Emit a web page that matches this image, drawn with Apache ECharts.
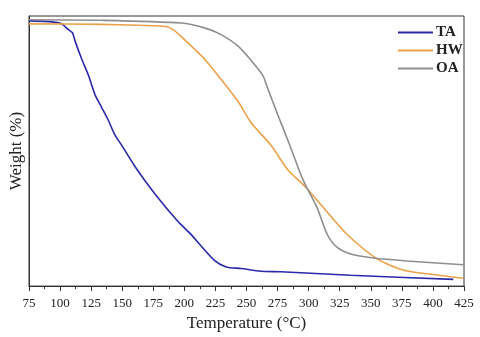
<!DOCTYPE html>
<html>
<head>
<meta charset="utf-8">
<script src="https://cdn.jsdelivr.net/npm/echarts@6/dist/echarts.min.js"></script>
<style>
  html, body { margin: 0; padding: 0; background: #fff; }
  #chart { width: 480px; height: 337px; }
</style>
</head>
<body>
<div id="chart"></div>
<script>
// temperature (°C) / weight (arbitrary %, no y labels in the source)
var taTemp = [75.2, 99.8, 106.8, 110.0, 112.1, 117.4, 122.8, 128.1, 133.5, 138.8, 144.1, 149.5, 160.1, 176.2, 194.9, 204.2, 224.2, 233.6, 245.6, 261.6, 277.6, 333.7, 416.4]
var taWeight = [98.2, 97.4, 94.9, 93.8, 90.7, 84.1, 78.1, 70.9, 66.1, 61.4, 56.0, 52.2, 44.4, 34.2, 23.9, 19.7, 9.5, 7.1, 6.5, 5.5, 5.3, 4.0, 2.5]

var hwTemp = [75, 133.5, 175.9, 186.0, 191.5, 196.5, 208.2, 216.2, 226.9, 243.0, 253.6, 269.6, 283.0, 297.7, 312.3, 331.0, 355.1, 376.4, 403.1, 424.4]
var hwWeight = [97.1, 96.9, 96.4, 96.0, 94.8, 92.8, 87.7, 84.1, 78.1, 68.5, 60.6, 52.2, 43.2, 36.6, 28.8, 19.1, 10.1, 5.9, 4.1, 2.9]

var oaTemp = [75, 133.5, 197.5, 216.2, 229.6, 243.0, 253.6, 263.0, 267.0, 275.0, 284.3, 293.6, 297.7, 307.0, 315.0, 323.0, 333.7, 352.4, 379.1, 424.4]
var oaWeight = [98.6, 98.4, 97.4, 95.6, 93.1, 88.9, 83.6, 78.1, 73.3, 63.6, 52.8, 41.4, 37.2, 28.8, 19.1, 14.3, 11.9, 10.4, 9.3, 7.9]

function pairs (xs, ys) {
  var out = []
  for (let i = 0; i < xs.length; i++) {
    out.push([xs[i], ys[i]])
  }
  return out
}

var serif = 'Liberation Serif'
var myChart = echarts.init(document.getElementById('chart'))
var option = {
  animation: false,
  backgroundColor: '#fff',
  textStyle: { fontFamily: serif },
  grid: {
    left: 27,
    right: 16,
    top: 16,
    bottom: 44,
    show: true,
    borderColor: '#333',
    borderWidth: 1
  },
  legend: {
    orient: 'vertical',
    left: 393,
    top: 20,
    icon: 'rect',
    itemWidth: 35,
    itemHeight: 2,
    itemGap: 3,
    textStyle: { fontFamily: serif, fontSize: 15, fontWeight: 'bold', color: '#222', padding: [0, 0, 0, -2] },
    data: ['TA', 'HW', 'OA']
  },
  xAxis: {
    type: 'value',
    min: 75,
    max: 425,
    interval: 25,
    name: 'Temperature (°C)',
    nameLocation: 'middle',
    nameGap: 23,
    nameTextStyle: { fontFamily: serif, fontSize: 17, color: '#222' },
    axisLine: { lineStyle: { color: '#333', width: 1 } },
    axisTick: { length: 5, lineStyle: { color: '#333' } },
    minorTick: { show: true, splitNumber: 2, length: 3, lineStyle: { color: '#333' } },
    axisLabel: { fontFamily: serif, fontSize: 13, color: '#222', margin: 11 },
    splitLine: { show: false }
  },
  yAxis: {
    type: 'value',
    min: 0,
    max: 100,
    name: 'Weight (%)',
    nameLocation: 'middle',
    nameGap: 4,
    nameTextStyle: { fontFamily: serif, fontSize: 17, color: '#222' },
    axisLine: { show: true, lineStyle: { color: '#333', width: 1 } },
    axisTick: { show: false },
    axisLabel: { show: false },
    splitLine: { show: false }
  },
  series: [
    {
      name: 'TA',
      type: 'line',
      symbol: 'none',
      smooth: 0.25,
      data: pairs(taTemp, taWeight),
      lineStyle: { color: '#2a2aa8', width: 1.6 },
      itemStyle: { color: '#2a2aa8' }
    },
    {
      name: 'HW',
      type: 'line',
      symbol: 'none',
      smooth: 0.25,
      data: pairs(hwTemp, hwWeight),
      lineStyle: { color: '#eba14a', width: 1.6 },
      itemStyle: { color: '#eba14a' }
    },
    {
      name: 'OA',
      type: 'line',
      symbol: 'none',
      smooth: 0.25,
      data: pairs(oaTemp, oaWeight),
      lineStyle: { color: '#8e8e8e', width: 1.6 },
      itemStyle: { color: '#8e8e8e' }
    }
  ]
}
myChart.setOption(option)
</script>
</body>
</html>
